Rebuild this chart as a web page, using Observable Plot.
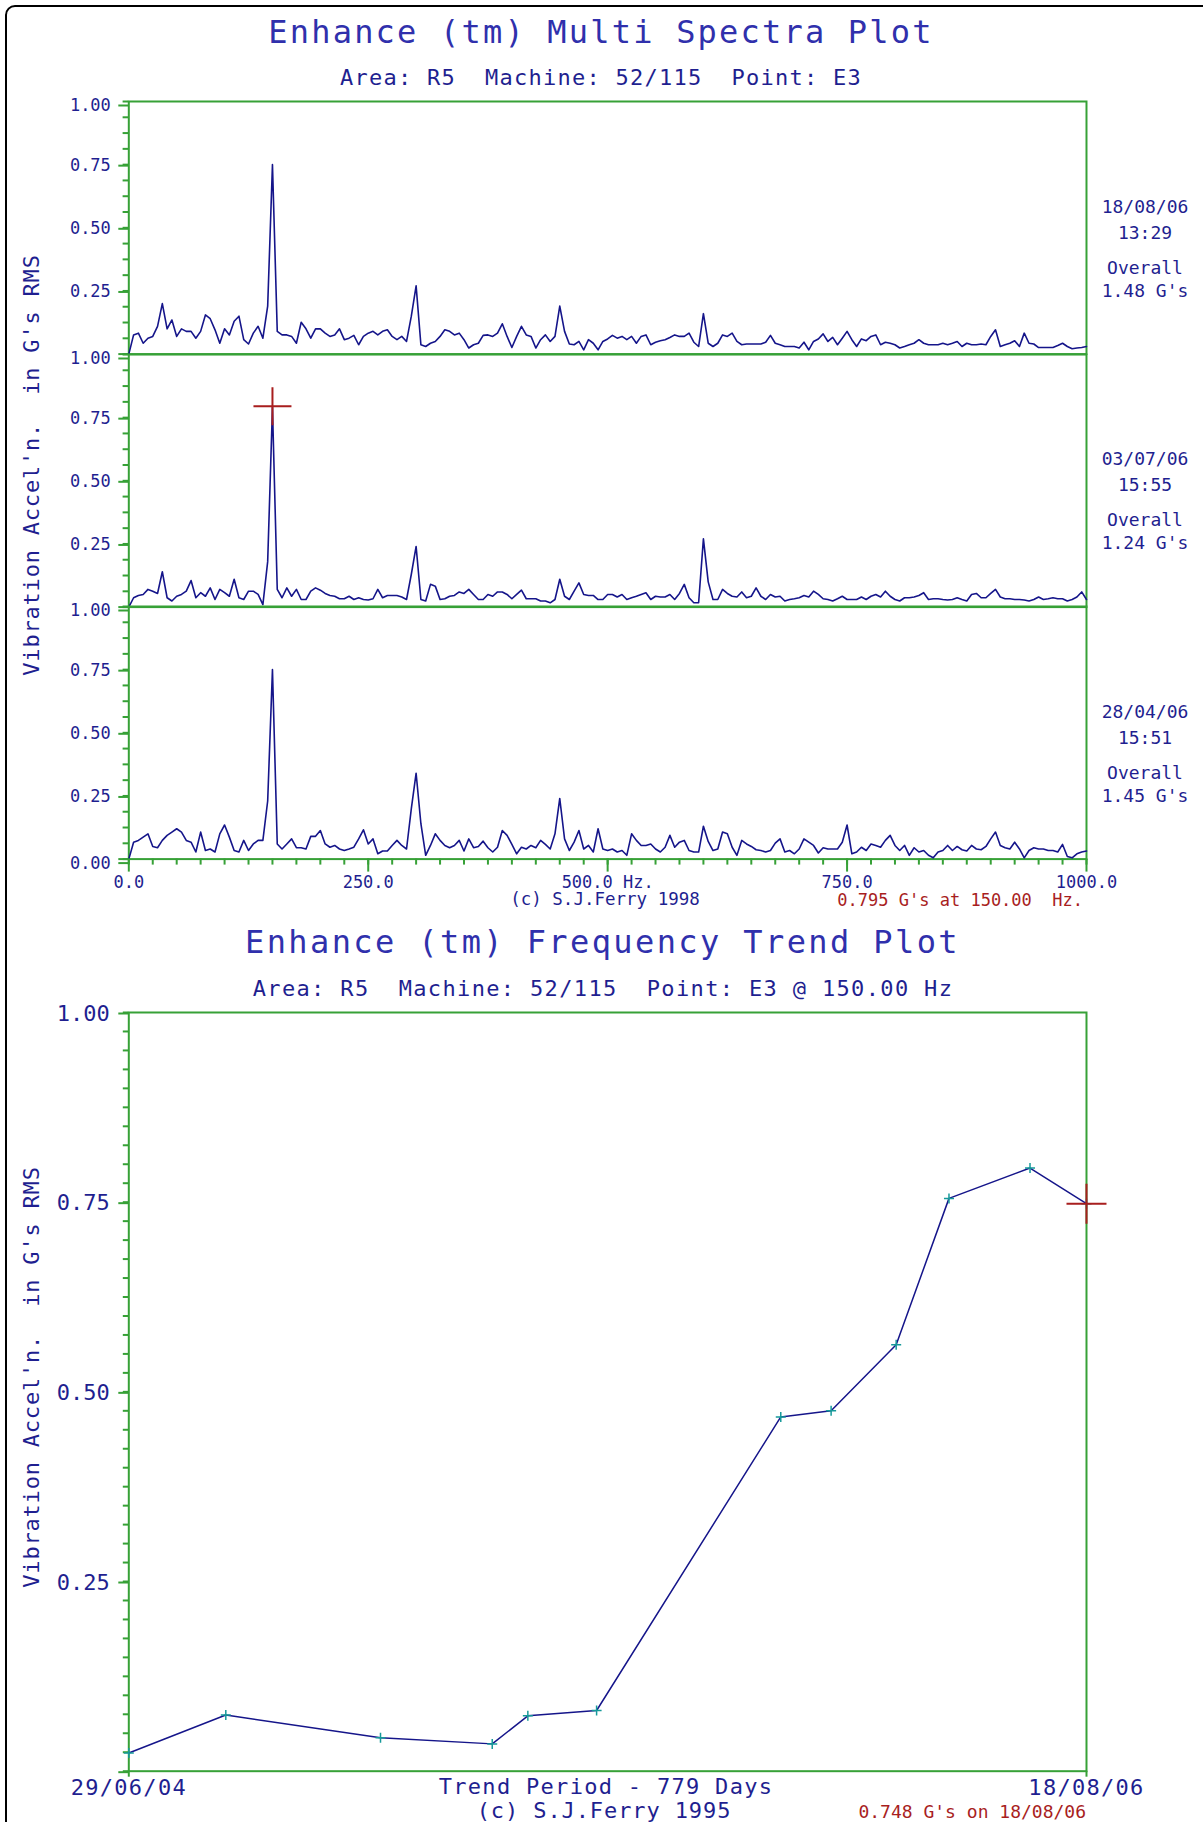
<!DOCTYPE html>
<html>
<head>
<meta charset="utf-8">
<script src="https://cdn.jsdelivr.net/npm/d3@7"></script>
<script src="https://cdn.jsdelivr.net/npm/@observablehq/plot@0.6"></script>
<style>
html, body { margin: 0; padding: 0; background: #fff; overflow: hidden; }
#page { position: relative; width: 1203px; height: 1822px; overflow: hidden; background: #fff;
        font-family: "DejaVu Sans Mono", monospace; }
.t { position: absolute; white-space: pre; line-height: 1; }
.border { position: absolute; left: 5px; top: 5px; width: 1260px; height: 1900px;
          border: 2px solid #000; border-radius: 10px; box-sizing: border-box; }
</style>
</head>
<body>
<div id="page"><div class="border"></div></div>
<script>
// ---------------- DATA ----------------
// spectral line spacing 5 Hz, 0 .. 1000 Hz (201 lines per spectrum)
const lineHz = 5;
const spectrumDates   = ["18/08/06", "03/07/06", "28/04/06"];
const spectrumTimes   = ["13:29", "15:55", "15:51"];
const spectrumOverall = ["1.48 G's", "1.24 G's", "1.45 G's"];

const spectrum1 = [ // 18/08/06 13:29
  0.000,0.076,0.083,0.043,0.063,0.070,0.110,0.200,0.100,0.135, 0.070,0.100,0.090,0.090,0.063,0.090,0.155,0.140,0.096,0.043,
  0.100,0.076,0.130,0.150,0.057,0.040,0.083,0.110,0.063,0.190, 0.750,0.090,0.076,0.076,0.070,0.043,0.126,0.100,0.063,0.100,
  0.100,0.083,0.070,0.076,0.100,0.057,0.063,0.074,0.037,0.070, 0.083,0.090,0.076,0.090,0.096,0.070,0.057,0.070,0.050,0.150,
  0.270,0.037,0.030,0.043,0.050,0.070,0.096,0.090,0.076,0.083, 0.057,0.024,0.037,0.043,0.074,0.076,0.070,0.083,0.120,0.070,
  0.026,0.070,0.110,0.076,0.070,0.024,0.057,0.076,0.050,0.070, 0.190,0.090,0.040,0.037,0.050,0.017,0.057,0.043,0.017,0.050,
  0.060,0.074,0.063,0.070,0.057,0.070,0.043,0.070,0.076,0.037, 0.047,0.053,0.057,0.066,0.076,0.070,0.070,0.083,0.047,0.030,
  0.160,0.043,0.030,0.043,0.076,0.070,0.083,0.050,0.037,0.040, 0.040,0.040,0.040,0.047,0.074,0.043,0.037,0.030,0.030,0.030,
  0.024,0.047,0.017,0.050,0.060,0.080,0.050,0.066,0.037,0.063, 0.090,0.057,0.030,0.060,0.053,0.070,0.076,0.037,0.047,0.043,
  0.037,0.024,0.030,0.037,0.043,0.057,0.043,0.037,0.037,0.037, 0.043,0.037,0.043,0.050,0.030,0.043,0.037,0.037,0.040,0.037,
  0.070,0.096,0.030,0.037,0.043,0.053,0.030,0.083,0.043,0.040, 0.026,0.026,0.026,0.026,0.034,0.043,0.030,0.021,0.024,0.026,
  0.030
];
const spectrum2 = [ // 03/07/06 15:55
  0.000,0.037,0.046,0.050,0.070,0.063,0.054,0.140,0.037,0.024, 0.043,0.050,0.063,0.105,0.037,0.057,0.043,0.076,0.030,0.070,
  0.057,0.043,0.110,0.037,0.030,0.063,0.063,0.050,0.010,0.180, 0.790,0.070,0.037,0.076,0.043,0.070,0.030,0.030,0.063,0.076,
  0.067,0.054,0.046,0.043,0.033,0.033,0.043,0.030,0.037,0.030, 0.028,0.033,0.070,0.037,0.046,0.046,0.046,0.040,0.030,0.130,
  0.240,0.030,0.024,0.090,0.083,0.030,0.033,0.043,0.046,0.060, 0.054,0.070,0.050,0.030,0.030,0.050,0.043,0.060,0.060,0.050,
  0.033,0.050,0.067,0.033,0.033,0.033,0.024,0.024,0.017,0.030, 0.110,0.043,0.030,0.063,0.096,0.050,0.046,0.046,0.030,0.030,
  0.050,0.050,0.040,0.050,0.030,0.037,0.043,0.050,0.057,0.030, 0.043,0.040,0.040,0.050,0.030,0.054,0.090,0.037,0.017,0.017,
  0.270,0.100,0.030,0.030,0.070,0.054,0.043,0.040,0.060,0.037, 0.043,0.076,0.043,0.030,0.050,0.040,0.043,0.024,0.030,0.033,
  0.037,0.046,0.040,0.063,0.050,0.033,0.030,0.024,0.033,0.043, 0.030,0.030,0.030,0.040,0.030,0.043,0.050,0.040,0.063,0.043,
  0.030,0.024,0.037,0.037,0.040,0.046,0.057,0.030,0.033,0.033, 0.030,0.028,0.030,0.037,0.030,0.024,0.050,0.054,0.037,0.037,
  0.054,0.070,0.040,0.033,0.033,0.030,0.030,0.028,0.024,0.030, 0.040,0.030,0.033,0.037,0.033,0.033,0.024,0.030,0.040,0.060,
  0.030
];
const spectrum3 = [ // 28/04/06 15:51
  0.000,0.067,0.074,0.087,0.100,0.050,0.045,0.074,0.094,0.107, 0.120,0.107,0.074,0.067,0.028,0.107,0.034,0.040,0.028,0.100,
  0.135,0.087,0.034,0.028,0.074,0.034,0.060,0.074,0.074,0.230, 0.750,0.060,0.040,0.060,0.080,0.045,0.045,0.040,0.090,0.090,
  0.113,0.060,0.047,0.054,0.040,0.034,0.040,0.047,0.080,0.116, 0.060,0.080,0.021,0.032,0.032,0.054,0.074,0.054,0.040,0.200,
  0.340,0.140,0.015,0.054,0.100,0.074,0.054,0.045,0.054,0.074, 0.032,0.080,0.045,0.050,0.071,0.045,0.028,0.047,0.113,0.094,
  0.058,0.021,0.047,0.040,0.054,0.045,0.074,0.058,0.040,0.100, 0.240,0.080,0.034,0.067,0.113,0.040,0.054,0.028,0.120,0.040,
  0.034,0.040,0.028,0.034,0.015,0.100,0.074,0.054,0.054,0.060, 0.040,0.028,0.047,0.094,0.047,0.067,0.074,0.034,0.028,0.028,
  0.130,0.070,0.034,0.040,0.107,0.100,0.047,0.015,0.074,0.060, 0.050,0.037,0.034,0.028,0.034,0.063,0.080,0.028,0.034,0.021,
  0.040,0.080,0.067,0.054,0.024,0.045,0.040,0.040,0.040,0.067, 0.135,0.021,0.028,0.047,0.034,0.060,0.054,0.047,0.074,0.094,
  0.054,0.034,0.054,0.015,0.045,0.028,0.034,0.015,0.005,0.028, 0.034,0.054,0.034,0.050,0.037,0.032,0.054,0.040,0.037,0.050,
  0.080,0.107,0.054,0.045,0.040,0.067,0.040,0.005,0.034,0.045, 0.040,0.040,0.034,0.034,0.028,0.058,0.010,0.005,0.021,0.028,
  0.032
];
const spectra = [spectrum1, spectrum2, spectrum3];

const spectraYTicks = [0, 0.25, 0.5, 0.75, 1];
const spectraXTicks = [0, 250, 500, 750, 1000];
const cursorHz = 150, cursorG = 0.795;   // cursor on the middle spectrum

const trendDates  = ["2004-06-29","2004-09-16","2005-01-20","2005-04-21","2005-05-20","2005-07-15",
                     "2005-12-12","2006-01-22","2006-03-16","2006-04-28","2006-07-03","2006-08-18"];
const trendValues = [0.024, 0.074, 0.044, 0.036, 0.073, 0.080, 0.467, 0.475, 0.562, 0.755, 0.795, 0.748];
const trendYTicks = [0, 0.25, 0.5, 0.75, 1];

// ---------------- STYLE / LAYOUT ----------------
const GREEN = "#37a137", NAVY = "#15158a", TEXT = "#1f1f90", TITLE = "#3030ac", RED = "#a81e1e", TEAL = "#169a9a";
const FONT = "DejaVu Sans Mono";
const W = 1203, L = 128.3, R = 1086;
const panelTops = [101, 353.6, 606.2], PH = 252.6;
const page = document.getElementById("page");

const plusSym = { draw(ctx, size) { const r = Math.sqrt(size / Math.PI);
  ctx.moveTo(-r, 0); ctx.lineTo(r, 0); ctx.moveTo(0, -r); ctx.lineTo(0, r); } };

function place(svg, top) {
  svg.style.position = "absolute"; svg.style.left = "0px"; svg.style.top = top + "px";
  page.appendChild(svg);
}
function addText(str, o) {
  const d = document.createElement("div");
  d.className = "t"; d.textContent = str;
  const size = o.size;
  d.style.fontSize = size + "px";
  d.style.letterSpacing = (o.ls || 0) + "px";
  d.style.color = o.color || TEXT;
  if (o.rotate) {
    d.style.left = o.x + "px"; d.style.top = o.y + "px";
    d.style.transform = "translate(-50%,-50%) rotate(-90deg)";
  } else {
    d.style.top = (o.y - 0.846 * size) + "px";
    if (o.anchor === "end") d.style.right = (W - o.x) + "px";
    else { d.style.left = o.x + "px"; d.style.transform = "translateX(-50%)"; }
  }
  page.appendChild(d);
}

// ---------------- SPECTRA ----------------
const minor16 = d3.range(0, 17).map(k => k / 16);
spectra.forEach((vals, i) => {
  const last = i === spectra.length - 1;
  const mt = 16, mb = last ? 40 : 4;
  const data = vals.map((g, k) => ({hz: k * lineHz, g}));
  const yLabelTicks = spectraYTicks.filter(t => t > 0 && t < 1);
  const yEndTicks = last ? [0, 1] : [1];
  const marks = [
    Plot.axisY(minor16, {anchor: "left", tickSize: 5.7, tickFormat: () => "", stroke: GREEN, strokeWidth: 2, label: null}),
    Plot.axisY([0], {anchor: "left", tickSize: 10, tickFormat: () => "", stroke: GREEN, strokeWidth: 2, label: null}),
    Plot.axisY(yLabelTicks, {anchor: "left", tickSize: 10, tickPadding: 8, label: null,
      tickFormat: t => t.toFixed(2), stroke: GREEN, strokeWidth: 2, fill: TEXT, fontSize: 17, dy: 1}),
    Plot.axisY(yEndTicks, {anchor: "left", tickSize: 10, tickPadding: 8, label: null,
      tickFormat: t => t.toFixed(2), stroke: GREEN, strokeWidth: 2, fill: TEXT, fontSize: 17, dy: t => 0, ...(last ? {} : {}) , dy: 4}),
    Plot.frame({stroke: GREEN, strokeWidth: 2}),
    Plot.line(data, {x: "hz", y: "g", stroke: NAVY, strokeWidth: 1.6})
  ];
  if (last) {
    marks.push(
      Plot.axisX(d3.range(0, 1001, 25), {anchor: "bottom", tickSize: 6, tickFormat: () => "", stroke: GREEN, strokeWidth: 2, label: null}),
      Plot.axisX(spectraXTicks, {anchor: "bottom", tickSize: 13, tickPadding: 4, label: null,
        tickFormat: t => t === 500 ? "500.0 Hz." : t.toFixed(1),
        stroke: GREEN, strokeWidth: 2, fill: TEXT, fontSize: 17})
    );
  }
  if (i === 1) {
    marks.push(Plot.dot([{hz: cursorHz, g: cursorG}], {x: "hz", y: "g", r: 19, symbol: plusSym,
      fill: "none", stroke: RED, strokeWidth: 2}));
  }
  const svg = Plot.plot({
    width: W, height: PH + mt + mb,
    marginLeft: L, marginRight: W - R, marginTop: mt, marginBottom: mb,
    x: last ? {domain: [0, 1000]} : {domain: [0, 1000], axis: null},
    y: {domain: [0, 1]},
    style: {background: "transparent", fontFamily: FONT, overflow: "visible"},
    marks
  });
  place(svg, panelTops[i] - mt);
  // date / time / overall annotations
  const top = panelTops[i];
  addText(spectrumDates[i],   {x: 1145, y: top + 112, size: 18});
  addText(spectrumTimes[i],   {x: 1145, y: top + 138, size: 18});
  addText("Overall",          {x: 1145, y: top + 173, size: 18});
  addText(spectrumOverall[i], {x: 1145, y: top + 196, size: 18});
});

addText("Enhance (tm) Multi Spectra Plot", {x: 601, y: 43, size: 32, ls: 2.2, color: TITLE});
addText("Area: R5  Machine: 52/115  Point: E3", {x: 601, y: 86, size: 22, ls: 1.25});
addText("Vibration Accel'n.  in G's RMS", {x: 31.5, y: 465, size: 22, ls: 0.8, rotate: true});
addText("(c) S.J.Ferry 1998", {x: 605, y: 906, size: 17.5});
addText(`${cursorG.toFixed(3)} G's at ${cursorHz.toFixed(2)}  Hz.`, {x: 1083, y: 906, size: 17, anchor: "end", color: RED});

// ---------------- TREND ----------------
const parse = d3.utcParse("%Y-%m-%d");
const tdata = trendDates.map((d, i) => ({date: parse(d), g: trendValues[i]}));
const first = tdata[0], lastPt = tdata[tdata.length - 1];
const fmt = d3.utcFormat("%d/%m/%y");
const TT = 1012.3, TH = 758.7, tmt = 20, tmb = 40;
const trendSvg = Plot.plot({
  width: W, height: TH + tmt + tmb,
  marginLeft: L, marginRight: W - R, marginTop: tmt, marginBottom: tmb,
  x: {type: "utc", domain: [first.date, lastPt.date]}, y: {domain: [0, 1]},
  style: {background: "transparent", fontFamily: FONT, overflow: "visible"},
  marks: [
    Plot.axisY(d3.range(0, 41).map(k => k / 40), {anchor: "left", tickSize: 5.5, tickFormat: () => "", stroke: GREEN, strokeWidth: 2, label: null}),
    Plot.axisY(trendYTicks, {anchor: "left", tickSize: 10, tickPadding: 9, label: null,
      tickFormat: t => t === 0 ? "" : t.toFixed(2), stroke: GREEN, strokeWidth: 2, fill: TEXT, fontSize: 22, dy: 1}),
    Plot.axisX([first.date, lastPt.date], {anchor: "bottom", tickSize: 6, tickPadding: 2, label: null,
      tickFormat: fmt, stroke: GREEN, strokeWidth: 2, fill: TEXT, fontSize: 22}),
    Plot.frame({stroke: GREEN, strokeWidth: 2}),
    Plot.line(tdata, {x: "date", y: "g", stroke: NAVY, strokeWidth: 1.5}),
    Plot.dot(tdata, {x: "date", y: "g", r: 5, symbol: plusSym, fill: "none", stroke: TEAL, strokeWidth: 1.5}),
    Plot.dot([lastPt], {x: "date", y: "g", r: 20, symbol: plusSym, fill: "none", stroke: RED, strokeWidth: 2})
  ]
});
trendSvg.querySelectorAll('[aria-label="x-axis tick label"] text').forEach(t => t.style.letterSpacing = "1.3px");
place(trendSvg, TT - tmt);

const days = Math.round((lastPt.date - first.date) / 864e5) - 1;
addText("Enhance (tm) Frequency Trend Plot", {x: 602.5, y: 953, size: 32, ls: 2.4, color: TITLE});
addText("Area: R5  Machine: 52/115  Point: E3 @ 150.00 Hz", {x: 603, y: 997, size: 22, ls: 1.35});
addText("Vibration Accel'n.  in G's RMS", {x: 31.5, y: 1377, size: 22, ls: 0.8, rotate: true});
addText(`Trend Period - ${days} Days`, {x: 606, y: 1795, size: 22, ls: 1.3});
addText("(c) S.J.Ferry 1995", {x: 604, y: 1819, size: 22, ls: 0.9});
addText(`${lastPt.g.toFixed(3)} G's on ${fmt(lastPt.date)}`, {x: 1086, y: 1818, size: 18, anchor: "end", color: RED});
</script>
</body>
</html>
